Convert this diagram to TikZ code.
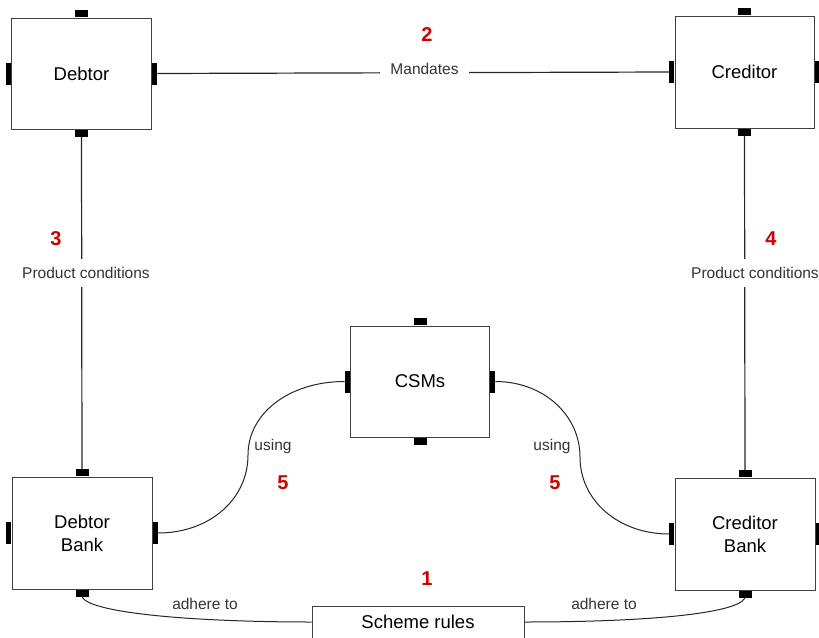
\documentclass[tikz,border=0pt]{standalone}
\usepackage{fontspec}
\setmainfont{Liberation Sans}
\definecolor{numred}{HTML}{CC0000}
\definecolor{edge}{HTML}{404040}
\definecolor{wire}{HTML}{262626}
\definecolor{labtext}{HTML}{333333}
\begin{document}
\begin{tikzpicture}[x=1pt,y=-1pt,
  party/.style={draw=edge,line width=1pt,fill=white,minimum width=140,minimum height=111,
    inner sep=0pt,align=center,font=\fontsize{18.5}{23}\selectfont},
  portns/.style={fill=black,minimum width=13,minimum height=7,inner sep=0pt},
  portwe/.style={fill=black,minimum width=5,minimum height=22,inner sep=0pt},
  wireline/.style={draw=wire,line width=1.2pt},
  lab/.style={fill=white,text=labtext,inner xsep=2pt,inner ysep=3pt,font=\fontsize{15.5}{18}\selectfont},
  num/.style={text=numred,inner sep=0pt,font=\fontsize{20}{24}\selectfont\bfseries}]
\useasboundingbox (0,0) rectangle (819,637);
\clip (0,0) rectangle (819,637);

% parties
\node[party] (d)   at (81.5,73.5)  {Debtor};
\node[party,minimum width=139,minimum height=112] (c) at (744.5,72) {Creditor};
\node[party,minimum width=139] (csm) at (420,381.5) {CSMs};
\node[party,minimum height=112] (db) at (82,533) {Debtor\\Bank};
\node[party,minimum height=112] (cb) at (745,534) {Creditor\\Bank};
\node[party,minimum width=212,minimum height=32] (sr) at (418,622) {Scheme rules};

% connection ports on every side of each party
\foreach \b in {d,c,csm,db,cb}{
  \node[portns,anchor=south] (\b-n) at (\b.north) {};
  \node[portns,anchor=north] (\b-s) at (\b.south) {};
  \node[portwe,anchor=east]  (\b-w) at (\b.west) {};
  \node[portwe,anchor=west]  (\b-e) at (\b.east) {};
}

% mandates between debtor and creditor
\draw[wireline] (d-e.east) -- (c-w.west)
  node[lab,pos=0.522,yshift=4,inner xsep=10pt] (mand) {Mandates};

% product conditions, each side
\draw[wireline] (d-s.south) -- (db-n.north);
\node[lab,inner ysep=8pt] (pcl) at (86,273) {Product conditions};
\draw[wireline] (c-s.south) -- (cb-n.north);
\node[lab,inner ysep=8pt,inner xsep=0pt] (pcr) at (755,273) {Product conditions};

% banks use the CSMs
\coordinate (ul) at (248,455);
\coordinate (ur) at (580,457);
\draw[wireline,line width=1pt] (db-e.east) .. controls +(52,0) and +(0,44) .. (ul)
  .. controls +(0,-42) and +(-55,0) .. (csm-w.west);
\draw[wireline,line width=1pt] (csm-e.east) .. controls +(48,0) and +(0,-42) .. (ur)
  .. controls +(0,44) and +(-50,0) .. (cb-w.west);
\node[text=labtext,font=\fontsize{15.5}{18}\selectfont] (usl) at (273,446) {using};
\node[text=labtext,font=\fontsize{15.5}{18}\selectfont] (usr) at (552,446) {using};

% banks adhere to the scheme rules
\draw[wireline,line width=1pt] (db-s.south) .. controls +(8,16) and +(-120,0) .. (sr.west);
\draw[wireline,line width=1pt] (cb-s.south) .. controls +(-8,16) and +(120,0) .. (sr.east);
\node[text=labtext,font=\fontsize{15.5}{18}\selectfont] (adl) at (205,604) {adhere to};
\node[text=labtext,font=\fontsize{15.5}{18}\selectfont] (adr) at (604,604) {adhere to};

% step numbers
\node[num] (n1) at (427,579) {1};
\node[num] (n2) at (427,35) {2};
\node[num] (n3) at (56,239) {3};
\node[num] (n4) at (771,239) {4};
\node[num] (n5l) at (283,483) {5};
\node[num] (n5r) at (555,483) {5};
\end{tikzpicture}
\end{document}
